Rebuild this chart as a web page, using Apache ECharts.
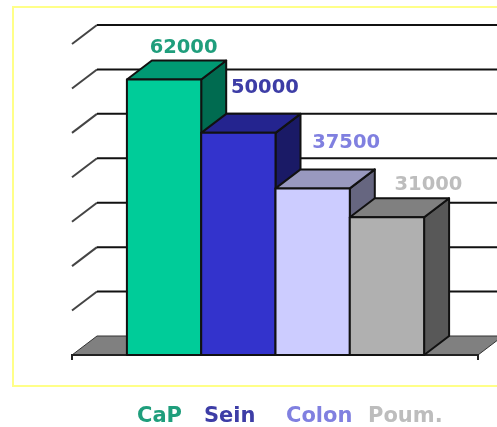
<!DOCTYPE html>
<html>
<head>
<meta charset="utf-8">
<style>
    html, body { margin: 0; padding: 0; background: #fff; }
    /* the reference is a slightly soft, resampled picture */
    #chart { width: 497px; height: 427px; filter: blur(0.4px); }
</style>
<script src="https://cdn.jsdelivr.net/npm/echarts@6/dist/echarts.min.js"></script>
</head>
<body>
<div id="chart"></div>
<script>
// Chart data
const seriesNames = ['CaP', 'Sein', 'Colon', 'Poum.'];
const seriesValues = [62000, 50000, 37500, 31000];
const wallTicks = [0, 10000, 20000, 30000, 40000, 50000, 60000, 70000];

// Colours per series: front, top, side, text
const frontColors = ['#00cc99', '#3333cc', '#ccccff', '#b0b0b0'];
const topColors = ['#009973', '#24248f', '#9999bf', '#808080'];
const sideColors = ['#006b50', '#1a1a66', '#666680', '#585858'];
const textColors = ['#1f9e7c', '#3d3da6', '#8080e0', '#bdbdbd'];

// Layout
const depthX = 25;
const depthY = 19;
const barRatio = 0.183;
const barShift = 0.5;
const labelShiftX = [7, 14, 21, 29];
const labelShiftY = [13, 26, 26, 13];
const legendLeft = [137, 204, 286, 368];
const fontFamily = '"DejaVu Sans", sans-serif';

// Back wall, side wall lines and floor
function renderWall(params, api) {
    const y = api.coord([0, api.value(0)])[1];
    const rect = params.coordSys;
    const x0 = rect.x;
    const x1 = rect.x + rect.width;
    if (api.value(0) === 0) {
        return {
            type: 'group',
            children: [{
                type: 'polygon',
                shape: {points: [[x0, y], [x0 + depthX, y - depthY], [x1 + depthX, y - depthY], [x1, y]]},
                style: {fill: '#808080', stroke: '#333', lineWidth: 1}
            }, {
                type: 'polyline',
                shape: {points: [[x0, y + 5], [x0, y], [x1, y], [x1, y + 5]]},
                style: {fill: null, stroke: '#222', lineWidth: 2}
            }]
        };
    }
    return {
        type: 'group',
        children: [{
            type: 'line',
            shape: {x1: x0, y1: y, x2: x0 + depthX, y2: y - depthY},
            style: {stroke: '#444', lineWidth: 2}
        }, {
            type: 'line',
            shape: {x1: x0 + depthX, y1: y - depthY, x2: api.getWidth(), y2: y - depthY},
            style: {stroke: '#111', lineWidth: 2}
        }]
    };
}

// One 3D bar, index gives its place in the cluster
function makeRenderBar(index) {
    return function (params, api) {
        const base = api.coord([0, 0]);
        const top = api.coord([0, api.value(1)]);
        const w = api.size([1, 0])[0] * barRatio;
        const x = base[0] + barShift + (index - seriesNames.length / 2) * w;
        const edge = {stroke: '#111', lineWidth: 2, lineJoin: 'round'};
        return {
            type: 'group',
            children: [{
                type: 'polygon',
                shape: {points: [[x + w, top[1]], [x + w + depthX, top[1] - depthY], [x + w + depthX, base[1] - depthY], [x + w, base[1]]]},
                style: Object.assign({fill: sideColors[index]}, edge)
            }, {
                type: 'polygon',
                shape: {points: [[x, top[1]], [x + depthX, top[1] - depthY], [x + w + depthX, top[1] - depthY], [x + w, top[1]]]},
                style: Object.assign({fill: topColors[index]}, edge)
            }, {
                type: 'rect',
                shape: {x: x, y: top[1], width: w, height: base[1] - top[1]},
                style: Object.assign({fill: frontColors[index]}, edge)
            }, {
                type: 'text',
                z2: 100,
                style: {
                    x: x + w / 2 + depthX / 2 + labelShiftX[index],
                    y: top[1] - depthY - labelShiftY[index],
                    text: String(api.value(1)),
                    fill: textColors[index],
                    font: 'bold 19.5px ' + fontFamily,
                    align: 'center',
                    verticalAlign: 'middle'
                }
            }]
        };
    };
}

const chart = echarts.init(document.getElementById('chart'));

const series = [{
    name: 'wall',
    type: 'custom',
    coordinateSystem: 'cartesian2d',
    clip: false,
    silent: true,
    renderItem: renderWall,
    data: wallTicks.map(t => [t]),
    encode: {y: 0}
}].concat(seriesNames.map((name, i) => ({
    name: name,
    type: 'custom',
    coordinateSystem: 'cartesian2d',
    clip: false,
    z: 3 + i,
    renderItem: makeRenderBar(i),
    data: [[0, seriesValues[i]]],
    encode: {x: 0, y: 1},
    itemStyle: {color: frontColors[i]}
})));

chart.setOption({
    backgroundColor: '#fff',
    animation: false,
    grid: {left: 72, top: 44, width: 406, height: 311},
    xAxis: {type: 'category', data: [''], show: false},
    yAxis: {type: 'value', min: 0, max: 70000, interval: 10000, show: false},
    legend: seriesNames.map((name, i) => ({
        data: [{name: name, icon: 'none'}],
        left: legendLeft[i],
        top: 406,
        padding: 0,
        itemWidth: 0,
        itemHeight: 0,
        itemGap: 0,
        selectedMode: false,
        textStyle: {
            color: textColors[i],
            fontFamily: fontFamily,
            fontWeight: 'bold',
            fontSize: 21,
            padding: [0, 0, 0, -5]
        }
    })),
    // Pale yellow frame behind the plot, runs off the right edge
    graphic: [{
        type: 'rect',
        z: -10,
        shape: {x: 13, y: 7, width: 500, height: 379},
        style: {fill: '#fff', stroke: '#ffff88', lineWidth: 2}
    }],
    series: series
});
</script>
</body>
</html>
